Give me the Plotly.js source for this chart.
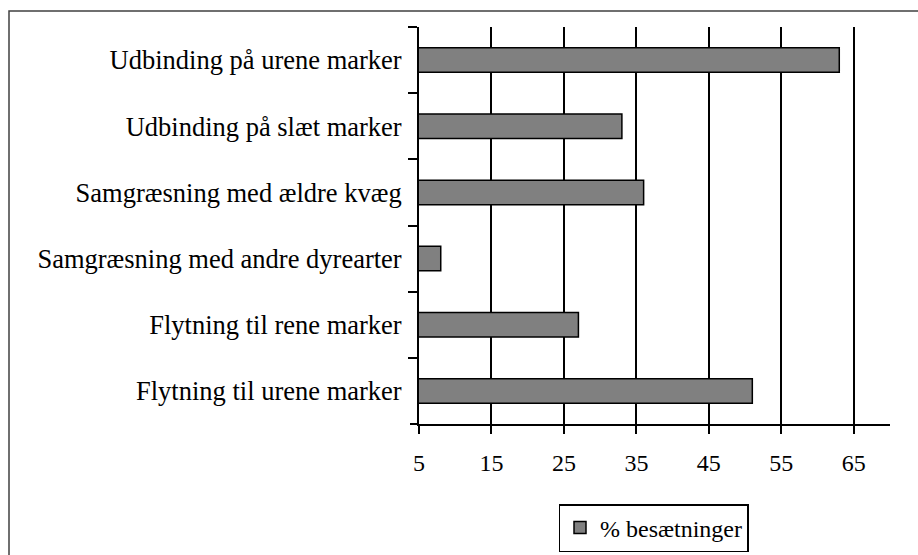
<!DOCTYPE html>
<html>
<head>
<meta charset="utf-8">
<script src="https://cdn.plot.ly/plotly-3.0.1.min.js"></script>
<style>
html,body{margin:0;padding:0;background:#fff;}
#chart{width:918px;height:555px;}
</style>
</head>
<body>
<div id="chart"></div>
<script>
const categories = [
  "Udbinding på urene marker",
  "Udbinding på slæt marker",
  "Samgræsning med ældre kvæg",
  "Samgræsning med andre dyrearter",
  "Flytning til rene marker",
  "Flytning til urene marker"
];
const values = [63, 33, 36, 8, 27, 51];
const seriesName = "% besætninger";
const xTicks = [5, 15, 25, 35, 45, 55, 65];

const L = 419, R = 28, T = 27, B = 131;
const W = 918 - L - R, H = 555 - T - B;
const px = v => (v - L) / W;
const py = v => (555 - B - v) / H;

const trace = {
  type: 'bar',
  orientation: 'h',
  x: values,
  y: categories,
  name: seriesName,
  width: 0.37,
  marker: {color: '#808080', line: {color: '#000', width: 1.5}},
  showlegend: true,
  hoverinfo: 'x+y'
};

const serif = 'Liberation Serif, DejaVu Serif, serif';

const layout = {
  width: 918, height: 555,
  margin: {l: L, r: R, t: T, b: B, pad: 0, autoexpand: false},
  paper_bgcolor: '#fff', plot_bgcolor: '#fff',
  font: {family: serif, color: '#000'},
  xaxis: {
    range: [5, 70],
    tickvals: xTicks,
    ticktext: xTicks.map(String),
    showgrid: true, gridcolor: '#000', gridwidth: 2,
    zeroline: false,
    showline: true, linecolor: '#000', linewidth: 2,
    ticks: 'outside', ticklen: 8, tickwidth: 2, tickcolor: '#000',
    ticklabelstandoff: 8,
    tickfont: {family: serif, size: 24, color: '#000'},
    fixedrange: true
  },
  yaxis: {
    type: 'category',
    autorange: 'reversed',
    showgrid: false, zeroline: false,
    showline: true, linecolor: '#000', linewidth: 2,
    ticks: 'outside', tickson: 'boundaries', ticklen: 9, tickwidth: 2, tickcolor: '#000',
    ticklabelstandoff: 10,
    tickfont: {family: serif, size: 26.5, color: '#000'},
    fixedrange: true
  },
  legend: {
    x: px(653.5), xanchor: 'center',
    y: py(504), yanchor: 'top',
    bordercolor: '#000', borderwidth: 1.5,
    bgcolor: '#fff',
    font: {family: serif, size: 24, color: '#000'},
    itemwidth: 30
  },
  shapes: [
    {type: 'rect', xref: 'paper', yref: 'paper',
     x0: px(9), x1: px(930), y0: py(570), y1: py(11),
     line: {color: '#404040', width: 1.5}, fillcolor: 'rgba(0,0,0,0)'},
    {type: 'line', xref: 'paper', yref: 'paper',
     x0: px(410), x1: 0, y0: 0, y1: 0,
     line: {color: '#000', width: 2}}
  ]
};

Plotly.newPlot('chart', [trace], layout, {displayModeBar: false, staticPlot: true});
</script>
</body>
</html>
